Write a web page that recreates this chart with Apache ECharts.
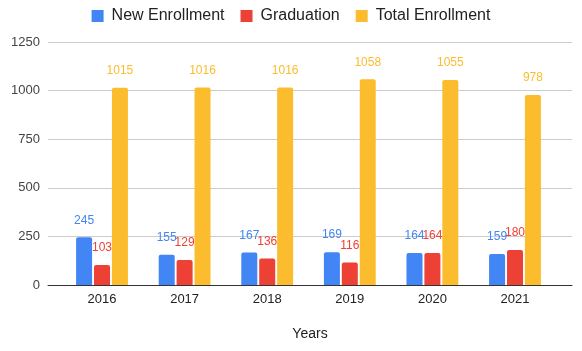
<!DOCTYPE html>
<html>
<head>
<meta charset="utf-8">
<script src="https://cdn.jsdelivr.net/npm/echarts@6/dist/echarts.min.js"></script>
<style>
  html, body { margin: 0; padding: 0; background: #fff; }
  #grafico { width: 582px; height: 351px; }
</style>
</head>
<body>
<div id="grafico"></div>
<script>
const years = ['2016', '2017', '2018', '2019', '2020', '2021'];
const newEnrollment = [245, 155, 167, 169, 164, 159];
const graduation = [103, 129, 136, 116, 164, 180];
const totalEnrollment = [1015, 1016, 1016, 1058, 1055, 978];
const yTicks = [0, 250, 500, 750, 1000, 1250];

const fuente = 'Arial, "Liberation Sans", sans-serif';

// x es un eje de valores para que las lineas de rejilla lleguen mas alla de las barras
const posiciones = years.map((_, i) => i);
const aPares = (valores) => valores.map((v, i) => [i, v]);

const serieBarra = (nombre, valores, color) => ({
    name: nombre,
    type: 'bar',
    data: aPares(valores),
    barWidth: 16,
    barGap: '12%',
    itemStyle: { color: color, borderRadius: [2, 2, 0, 0] },
    label: {
        show: true,
        position: 'top',
        distance: 11,
        color: color,
        fontFamily: fuente,
        fontSize: 12,
        formatter: p => p.value[1]
    }
});

const chart = echarts.init(document.getElementById('grafico'));
chart.setOption({
    animation: false,
    textStyle: { fontFamily: fuente },
    legend: {
        top: 3,
        left: 'center',
        icon: 'rect',
        itemWidth: 12,
        itemHeight: 12,
        itemGap: 16,
        textStyle: { fontSize: 16, color: '#222', fontFamily: fuente, padding: [0, 0, 0, 3] },
        data: ['New Enrollment', 'Graduation', 'Total Enrollment']
    },
    grid: { left: 48, right: 10, top: 42, bottom: 66 },
    xAxis: {
        type: 'value',
        min: -0.654,
        max: 5.69,
        name: 'Years',
        nameLocation: 'middle',
        nameGap: 42,
        nameTextStyle: { fontSize: 14, color: '#222', fontFamily: fuente },
        axisLine: { show: true, lineStyle: { color: '#333', width: 1 } },
        axisTick: { show: false },
        splitLine: { show: false },
        axisLabel: {
            customValues: posiciones,
            formatter: v => years[Math.round(v)],
            fontSize: 13,
            color: '#222',
            margin: 8,
            fontFamily: fuente
        }
    },
    yAxis: {
        type: 'value',
        min: 0,
        max: 1250,
        interval: 250,
        axisLine: { show: false },
        axisTick: { show: false },
        splitLine: { lineStyle: { color: '#ccc', width: 1 } },
        axisLabel: {
            customValues: yTicks,
            formatter: v => String(v),
            fontSize: 13,
            color: '#444',
            margin: 8,
            fontFamily: fuente
        }
    },
    series: [
        serieBarra('New Enrollment', newEnrollment, '#4285f4'),
        serieBarra('Graduation', graduation, '#ee4136'),
        serieBarra('Total Enrollment', totalEnrollment, '#fbbc2e')
    ]
});
</script>
</body>
</html>
